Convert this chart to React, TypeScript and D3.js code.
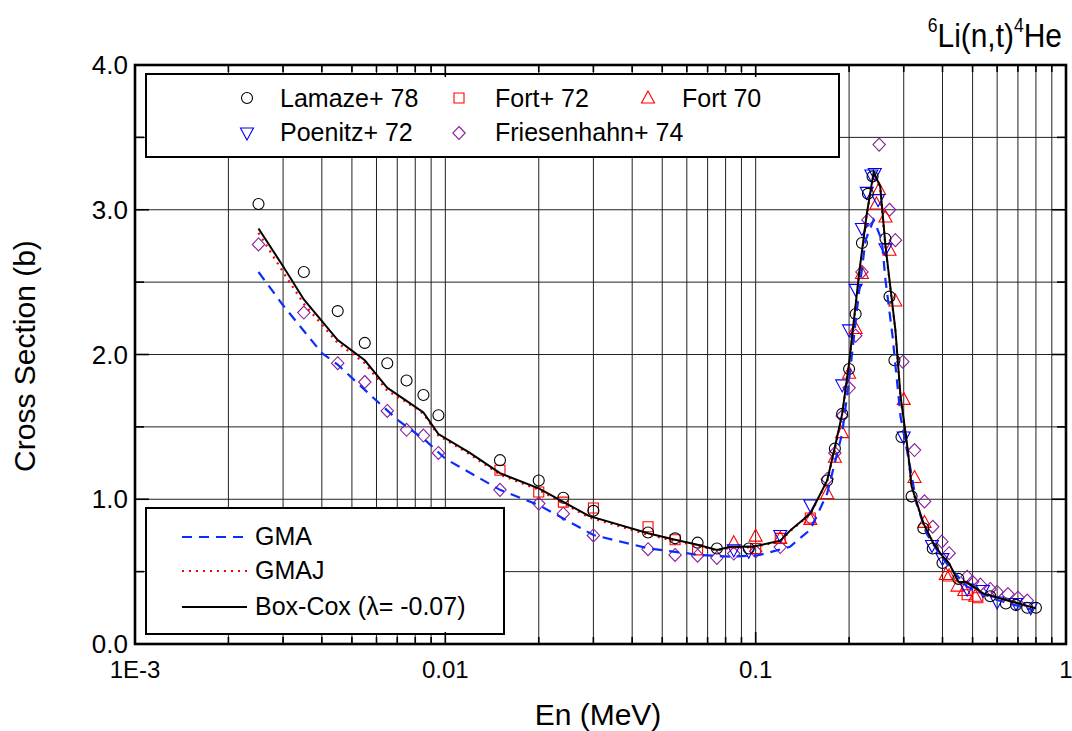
import React from "react";
import * as d3 from "d3";

// energy (MeV), cross section (b)
const lamaze: [number, number][] = [
  [0.0025, 3.04], [0.0035, 2.57], [0.0045, 2.3], [0.0055, 2.08], [0.0065, 1.94],
  [0.0075, 1.82], [0.0085, 1.72], [0.0095, 1.58], [0.015, 1.27], [0.02, 1.13],
  [0.024, 1.01], [0.03, 0.92], [0.045, 0.77], [0.055, 0.73], [0.065, 0.7],
  [0.075, 0.66], [0.095, 0.66], [0.17, 1.13], [0.18, 1.35], [0.19, 1.59],
  [0.2, 1.9], [0.21, 2.28], [0.22, 2.77], [0.23, 3.11], [0.238, 3.23],
  [0.262, 2.8], [0.27, 2.4], [0.28, 1.96], [0.295, 1.43], [0.318, 1.02],
  [0.347, 0.8], [0.372, 0.66], [0.4, 0.56], [0.45, 0.45], [0.57, 0.33],
  [0.64, 0.28], [0.69, 0.27], [0.75, 0.25], [0.8, 0.25],
];

const fort72: [number, number][] = [
  [0.015, 1.2], [0.02, 1.05], [0.024, 0.98], [0.03, 0.94], [0.045, 0.81],
  [0.055, 0.72], [0.065, 0.65], [0.1, 0.66], [0.12, 0.73], [0.15, 0.87],
  [0.48, 0.34], [0.52, 0.32],
];

const fort70: [number, number][] = [
  [0.085, 0.7], [0.1, 0.745], [0.12, 0.73], [0.15, 0.86], [0.17, 1.04],
  [0.18, 1.29], [0.19, 1.46], [0.2, 1.87], [0.21, 2.18], [0.22, 2.56],
  [0.245, 3.04], [0.25, 3.14], [0.262, 2.95], [0.27, 2.72], [0.282, 2.37],
  [0.3, 1.69], [0.325, 1.15], [0.35, 0.84], [0.41, 0.48], [0.42, 0.47],
  [0.447, 0.4], [0.47, 0.37], [0.51, 0.33],
];

const poenitz: [number, number][] = [
  [0.085, 0.65], [0.095, 0.64], [0.12, 0.75], [0.15, 0.96], [0.19, 1.79],
  [0.2, 2.17], [0.21, 2.45], [0.22, 2.87], [0.228, 3.12], [0.236, 3.24],
  [0.242, 3.25], [0.248, 3.07], [0.262, 2.73], [0.3, 1.43], [0.37, 0.68],
  [0.4, 0.59], [0.48, 0.38], [0.54, 0.37], [0.6, 0.29], [0.69, 0.28], [0.77, 0.25],
];

const friesenhahn: [number, number][] = [
  [0.0025, 2.76], [0.0035, 2.29], [0.0045, 1.94], [0.0055, 1.81], [0.0065, 1.61],
  [0.0075, 1.48], [0.0085, 1.44], [0.0095, 1.32], [0.015, 1.065], [0.02, 0.97],
  [0.024, 0.9], [0.03, 0.75], [0.045, 0.655], [0.055, 0.615], [0.065, 0.61],
  [0.075, 0.595], [0.085, 0.625], [0.1, 0.64], [0.12, 0.67], [0.15, 0.87],
  [0.17, 1.14], [0.18, 1.32], [0.19, 1.575], [0.2, 1.77], [0.21, 2.13],
  [0.22, 2.57], [0.23, 2.93], [0.25, 3.45], [0.27, 3.0], [0.282, 2.79],
  [0.298, 1.95], [0.325, 1.34], [0.35, 0.985], [0.372, 0.81], [0.398, 0.707],
  [0.42, 0.627], [0.48, 0.465], [0.5, 0.43], [0.53, 0.41], [0.57, 0.38],
  [0.6, 0.36], [0.65, 0.345], [0.7, 0.32], [0.75, 0.3],
];

const gma: [number, number][] = [
  [0.0025, 2.57], [0.003, 2.34], [0.004, 2.01], [0.0045, 1.93], [0.0056, 1.74],
  [0.007, 1.55], [0.0087, 1.4], [0.01, 1.28], [0.0111, 1.225], [0.015, 1.065],
  [0.02, 0.96], [0.03, 0.753], [0.045, 0.661], [0.066, 0.615], [0.084, 0.603],
  [0.103, 0.615], [0.129, 0.672], [0.15, 0.79], [0.17, 1.04], [0.19, 1.455],
  [0.2, 1.824], [0.215, 2.42], [0.226, 2.79], [0.24, 2.93], [0.255, 2.79],
  [0.262, 2.515], [0.276, 2.13], [0.293, 1.57], [0.316, 1.2], [0.33, 0.97],
  [0.355, 0.765], [0.39, 0.627], [0.42, 0.534], [0.48, 0.396], [0.6, 0.304],
  [0.78, 0.235],
];

const gmaj: [number, number][] = [
  [0.0025, 2.84], [0.003, 2.57], [0.0035, 2.35], [0.0045, 2.08], [0.0055, 1.94],
  [0.0065, 1.75], [0.0075, 1.67], [0.0085, 1.59], [0.0095, 1.44], [0.012, 1.31],
  [0.015, 1.17], [0.02, 1.065], [0.029, 0.875], [0.045, 0.755], [0.055, 0.71],
  [0.065, 0.68], [0.075, 0.645], [0.083, 0.665], [0.098, 0.668], [0.12, 0.71],
  [0.13, 0.785], [0.15, 0.895], [0.17, 1.125], [0.18, 1.35], [0.19, 1.58],
  [0.2, 1.93], [0.216, 2.57], [0.228, 2.96], [0.24, 3.25], [0.252, 3.15],
  [0.262, 2.74], [0.282, 2.16], [0.293, 1.7], [0.3, 1.54], [0.31, 1.31],
  [0.318, 1.08], [0.347, 0.83], [0.373, 0.695], [0.397, 0.61], [0.42, 0.553],
  [0.45, 0.428], [0.48, 0.423], [0.54, 0.348], [0.64, 0.302], [0.8, 0.245],
];

const boxCox: [number, number][] = [
  [0.0025, 2.87], [0.003, 2.61], [0.0035, 2.38], [0.0045, 2.1], [0.0055, 1.96],
  [0.0065, 1.77], [0.0075, 1.68], [0.0085, 1.6], [0.0095, 1.45], [0.012, 1.32],
  [0.015, 1.18], [0.02, 1.075], [0.029, 0.885], [0.045, 0.765], [0.055, 0.72],
  [0.065, 0.685], [0.075, 0.65], [0.083, 0.672], [0.098, 0.672], [0.12, 0.714],
  [0.13, 0.79], [0.15, 0.9], [0.17, 1.13], [0.18, 1.36], [0.19, 1.59],
  [0.2, 1.94], [0.216, 2.58], [0.228, 2.97], [0.24, 3.26], [0.252, 3.16],
  [0.262, 2.75], [0.282, 2.17], [0.293, 1.71], [0.3, 1.55], [0.31, 1.32],
  [0.318, 1.09], [0.347, 0.835], [0.373, 0.7], [0.397, 0.615], [0.42, 0.557],
  [0.45, 0.43], [0.48, 0.426], [0.54, 0.35], [0.64, 0.304], [0.8, 0.246],
];

const xMajor = [0.001, 0.01, 0.1, 1];
const xLabels = ["1E-3", "0.01", "0.1", "1"];
const yMajor = [0, 1, 2, 3, 4];
const yLabels = ["0.0", "1.0", "2.0", "3.0", "4.0"];

const FONT = "'Liberation Sans', Arial, sans-serif";
const left = 135, right = 1066, top = 65, bottom = 644;

// marker shapes as path strings centred on 0,0
const shapes: Record<string, string> = {
  circle: "M5.5,0A5.5,5.5,0,1,1,-5.5,0A5.5,5.5,0,1,1,5.5,0Z",
  square: "M-5,-5H5V5H-5Z",
  up: "M0,-7L6.5,5L-6.5,5Z",
  down: "M0,7L6.5,-5L-6.5,-5Z",
  diamond: "M0,-6.5L6.2,0L0,6.5L-6.2,0Z",
};

export default function App() {
  const x = d3.scaleLog().domain([1e-3, 1]).range([left, right]);
  const y = d3.scaleLinear().domain([0, 4]).range([bottom, top]);
  const line = d3
    .line<[number, number]>()
    .x((d) => x(d[0]))
    .y((d) => y(d[1]));

  const xMinor: number[] = [];
  [0.001, 0.01, 0.1].forEach((dec) => {
    for (let k = 2; k <= 9; k++) xMinor.push(dec * k);
  });
  const yMinor = [0.5, 1.5, 2.5, 3.5];

  const markerSets = [
    { data: friesenhahn, shape: "diamond", color: "#8a1f9a" },
    { data: fort72, shape: "square", color: "#ff0000" },
    { data: fort70, shape: "up", color: "#ff0000" },
    { data: poenitz, shape: "down", color: "#0000ff" },
    { data: lamaze, shape: "circle", color: "#000000" },
  ];

  const legendSym = (shape: string, color: string, cx: number, cy: number) => (
    <path d={shapes[shape]} transform={`translate(${cx},${cy})`} fill="none" stroke={color} strokeWidth={1.1} />
  );

  return (
    <svg width={1072} height={731} style={{ position: "absolute", left: 0, top: 0, background: "#fff" }} fontFamily={FONT}>
      <rect x={0} y={0} width={1072} height={731} fill="#fff" />
      {/* grid */}
      <g stroke="#222" strokeWidth={1}>
        {[...xMajor, ...xMinor].map((v) => (
          <line key={"gx" + v} x1={x(v)} x2={x(v)} y1={top} y2={bottom} />
        ))}
        {[...yMajor, ...yMinor].map((v) => (
          <line key={"gy" + v} x1={left} x2={right} y1={y(v)} y2={y(v)} />
        ))}
      </g>

      {/* markers */}
      {markerSets.map((s) =>
        s.data.map((d, i) => (
          <path
            key={s.shape + i}
            d={shapes[s.shape]}
            transform={`translate(${x(d[0])},${y(d[1])})`}
            fill="none"
            stroke={s.color}
            strokeWidth={1.1}
          />
        ))
      )}

      {/* curves */}
      <path d={line(gma) || ""} fill="none" stroke="#0a2cff" strokeWidth={2.2} strokeDasharray="10,7" />
      <path d={line(gmaj) || ""} fill="none" stroke="#ff0000" strokeWidth={2.2} strokeDasharray="2,5" />
      <path d={line(boxCox) || ""} fill="none" stroke="#000" strokeWidth={2} />

      {/* top legend */}
      <rect x={146} y={74} width={693} height={83} fill="#fff" stroke="#000" strokeWidth={2} />
      <g fontSize={25} fill="#000">
        {legendSym("circle", "#000", 247, 98)}
        <text x={280} y={107}>Lamaze+ 78</text>
        {legendSym("square", "#ff0000", 459, 98)}
        <text x={495} y={107}>Fort+ 72</text>
        {legendSym("up", "#ff0000", 648, 98)}
        <text x={682} y={107}>Fort 70</text>
        {legendSym("down", "#0000ff", 247, 133)}
        <text x={280} y={141}>Poenitz+ 72</text>
        {legendSym("diamond", "#8a1f9a", 459, 133)}
        <text x={495} y={141}>Friesenhahn+ 74</text>
      </g>

      {/* bottom legend */}
      <rect x={146} y={508} width={358} height={126} fill="#fff" stroke="#000" strokeWidth={2} />
      <line x1={182} x2={247} y1={537} y2={537} stroke="#0a2cff" strokeWidth={2.2} strokeDasharray="10,7" />
      <line x1={182} x2={247} y1={571} y2={571} stroke="#ff0000" strokeWidth={2.2} strokeDasharray="2,5" />
      <line x1={182} x2={247} y1={607} y2={607} stroke="#000" strokeWidth={2} />
      <g fontSize={25} fill="#000">
        <text x={255} y={545}>GMA</text>
        <text x={255} y={579}>GMAJ</text>
        <text x={255} y={615}>Box-Cox (λ= -0.07)</text>
      </g>

      {/* frame */}
      <rect x={left} y={top} width={right - left} height={bottom - top} fill="none" stroke="#000" strokeWidth={2.6} />

      {/* ticks */}
      <g stroke="#000" strokeWidth={1.6}>
        {yMajor.map((v) => (
          <g key={"ty" + v}>
            <line x1={left} x2={left + 14} y1={y(v)} y2={y(v)} />
            <line x1={right} x2={right - 14} y1={y(v)} y2={y(v)} />
          </g>
        ))}
        {yMinor.map((v) => (
          <g key={"tym" + v}>
            <line x1={left} x2={left + 9} y1={y(v)} y2={y(v)} />
            <line x1={right} x2={right - 9} y1={y(v)} y2={y(v)} />
          </g>
        ))}
        {xMajor.map((v) => (
          <g key={"tx" + v}>
            <line x1={x(v)} x2={x(v)} y1={bottom} y2={bottom - 12} />
            <line x1={x(v)} x2={x(v)} y1={top} y2={top + 12} />
          </g>
        ))}
        {xMinor.map((v) => (
          <g key={"txm" + v}>
            <line x1={x(v)} x2={x(v)} y1={bottom} y2={bottom - 7} />
            <line x1={x(v)} x2={x(v)} y1={top} y2={top + 7} />
          </g>
        ))}
      </g>

      {/* tick labels */}
      <g fill="#000">
        {yMajor.map((v, i) => (
          <text key={"ly" + v} x={left - 7} y={y(v) + 9} textAnchor="end" fontSize={26}>
            {yLabels[i]}
          </text>
        ))}
        {xMajor.map((v, i) => (
          <text key={"lx" + v} x={x(v)} y={678} textAnchor="middle" fontSize={24}>
            {xLabels[i]}
          </text>
        ))}
      </g>

      {/* axis titles */}
      <text x={598} y={725} fontSize={30} textAnchor="middle">En (MeV)</text>
      <text transform="translate(35,356) rotate(-90)" fontSize={30} textAnchor="middle">Cross Section (b)</text>

      {/* reaction label */}
      <g transform="translate(1062,47) scale(0.88,1)">
        <text x={0} y={0} textAnchor="end" fontSize={34}>
          <tspan fontSize={20} dy={-15}>6</tspan>
          <tspan dy={15}>Li(n,t)</tspan>
          <tspan fontSize={20} dy={-15}>4</tspan>
          <tspan dy={15}>He</tspan>
        </text>
      </g>
    </svg>
  );
}
